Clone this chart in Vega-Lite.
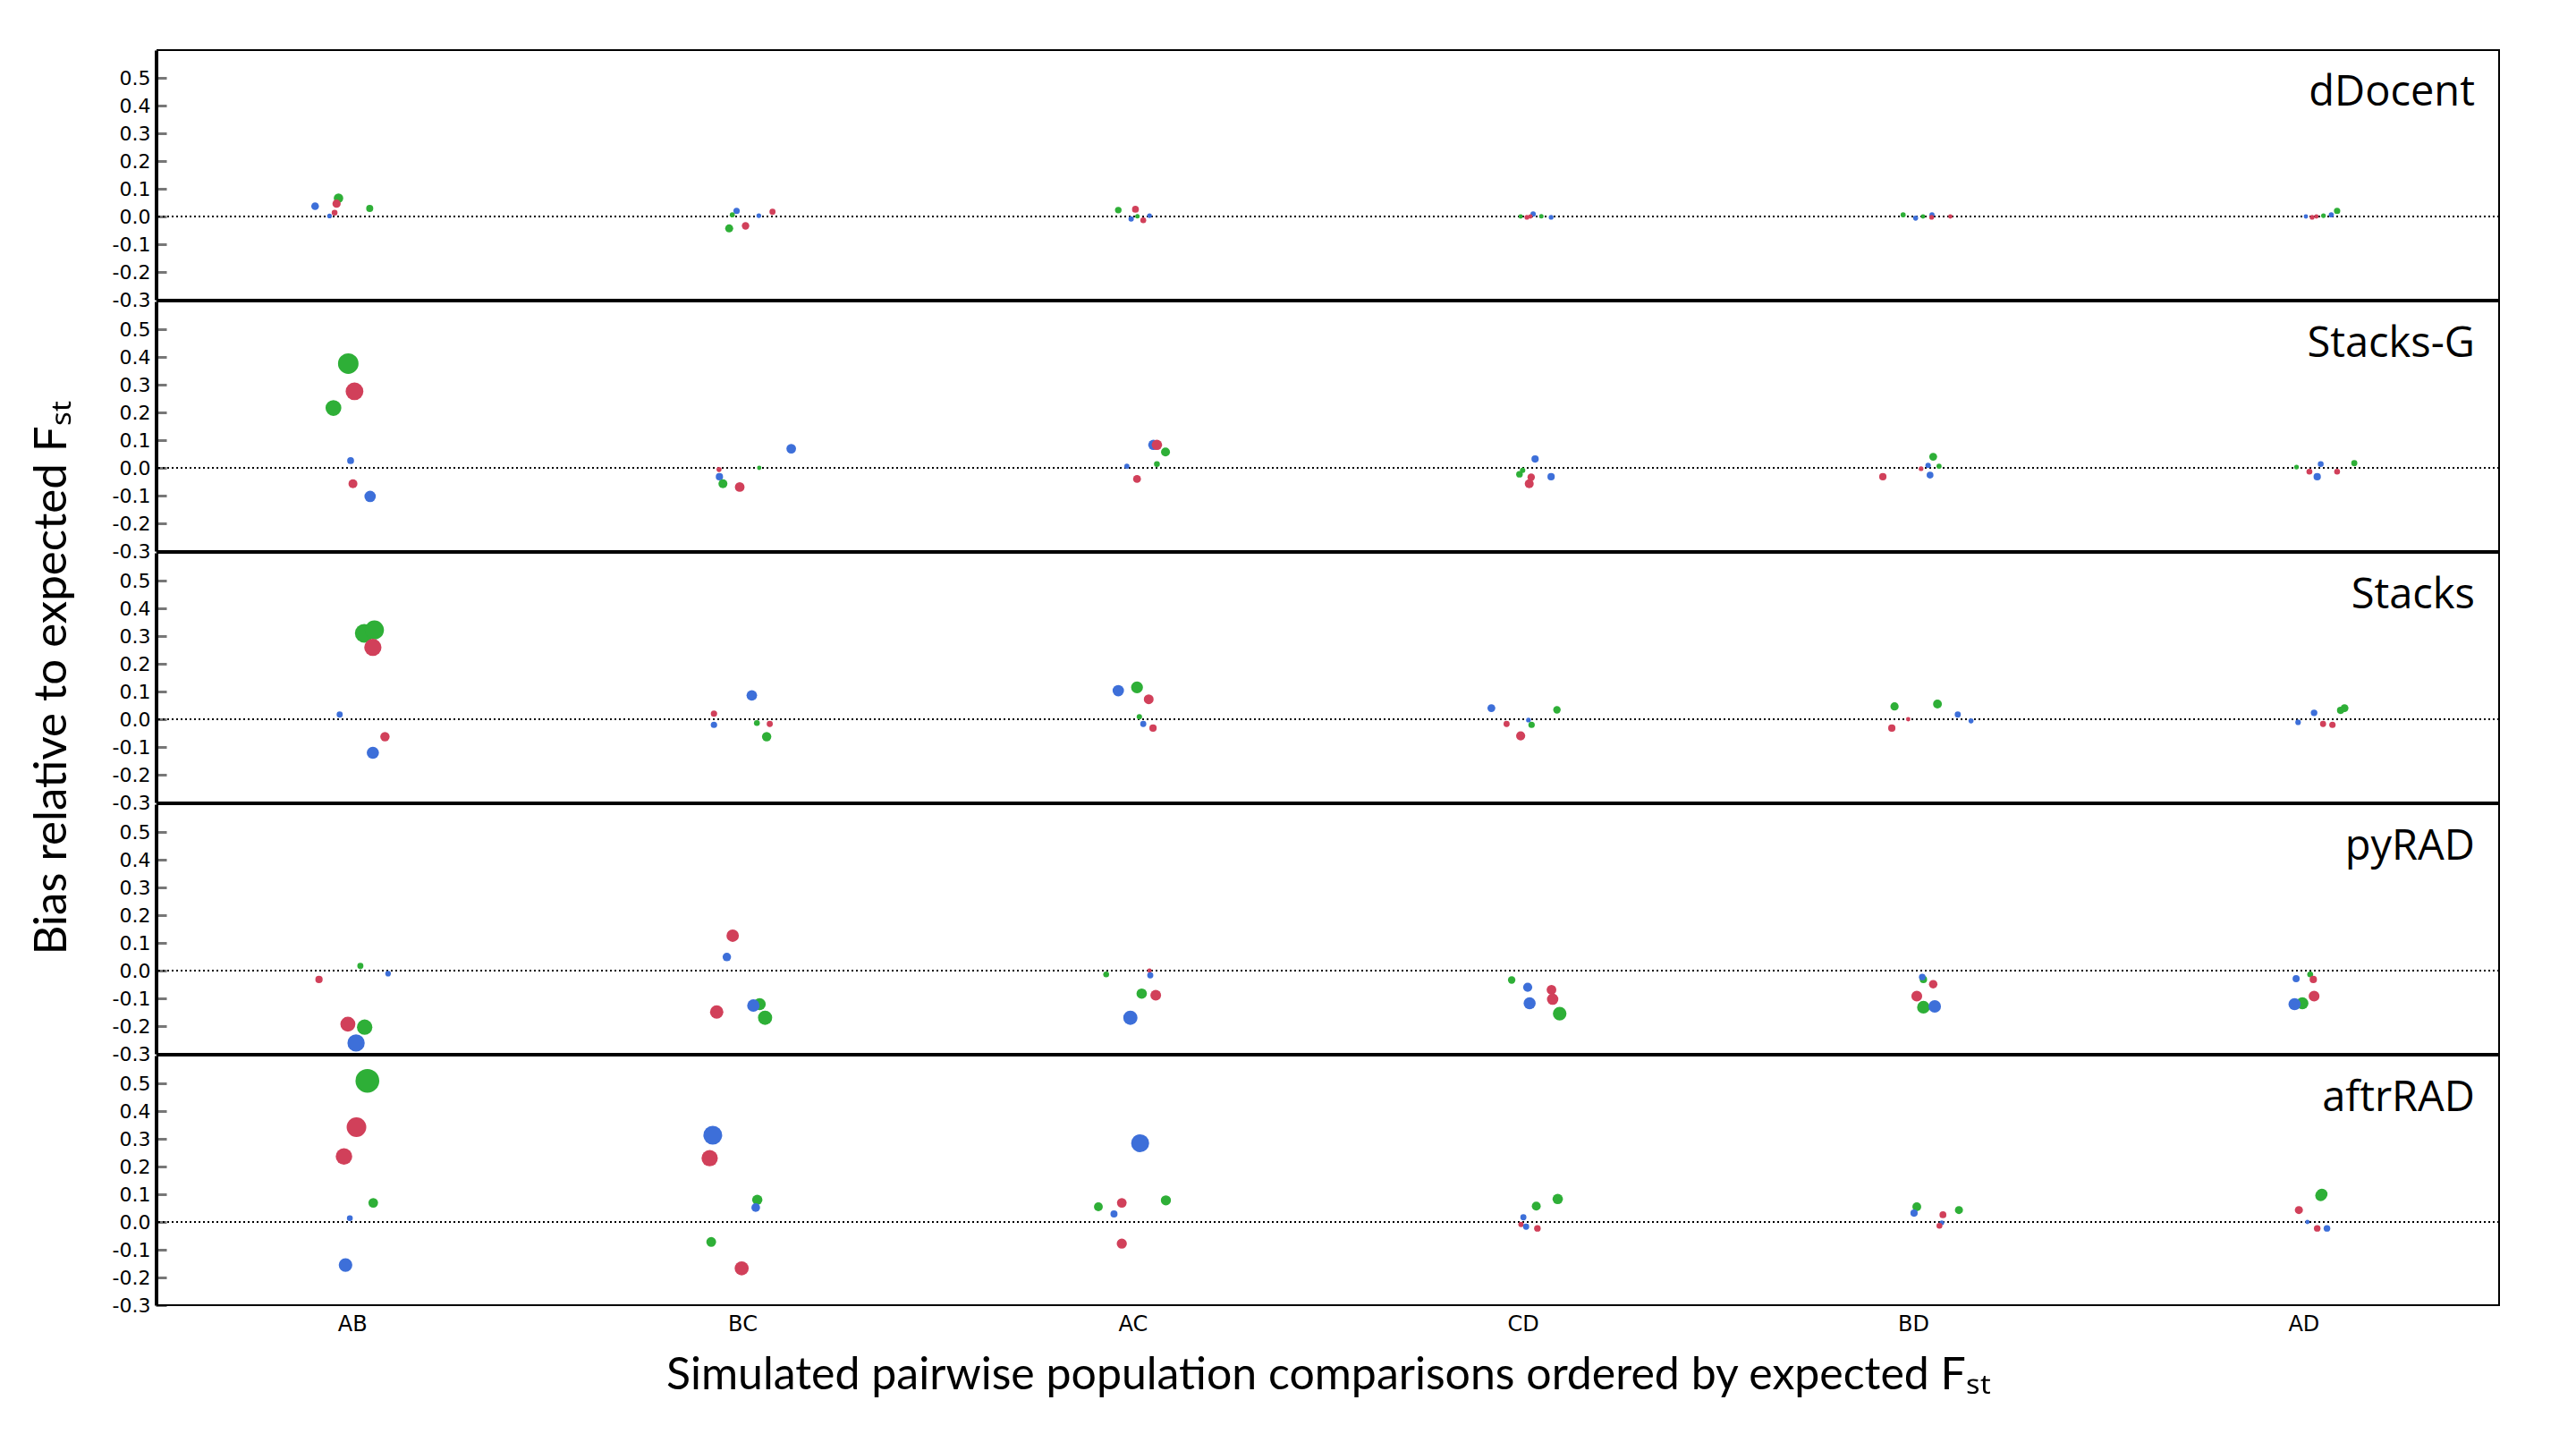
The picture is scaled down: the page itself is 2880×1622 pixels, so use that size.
{
  "$schema": "https://vega.github.io/schema/vega-lite/v6.json",
  "padding": {"left": 32, "top": 55, "right": 10, "bottom": 10},
  "background": "white",
  "data": {
    "values": [
      {"method": "dDocent", "pair": "AB", "set": "T1", "jitter": -0.096, "bias": 0.037},
      {"method": "dDocent", "pair": "AB", "set": "T3", "jitter": -0.036, "bias": 0.066},
      {"method": "dDocent", "pair": "AB", "set": "T2", "jitter": -0.041, "bias": 0.046},
      {"method": "dDocent", "pair": "AB", "set": "T2", "jitter": -0.046, "bias": 0.014},
      {"method": "dDocent", "pair": "AB", "set": "T1", "jitter": -0.059, "bias": 0.002},
      {"method": "dDocent", "pair": "AB", "set": "T3", "jitter": 0.044, "bias": 0.029},
      {"method": "Stacks-G", "pair": "AB", "set": "T3", "jitter": -0.011, "bias": 0.376},
      {"method": "Stacks-G", "pair": "AB", "set": "T2", "jitter": 0.005, "bias": 0.276},
      {"method": "Stacks-G", "pair": "AB", "set": "T3", "jitter": -0.049, "bias": 0.216},
      {"method": "Stacks-G", "pair": "AB", "set": "T1", "jitter": -0.005, "bias": 0.026},
      {"method": "Stacks-G", "pair": "AB", "set": "T2", "jitter": 0.001, "bias": -0.057},
      {"method": "Stacks-G", "pair": "AB", "set": "T1", "jitter": 0.045, "bias": -0.103},
      {"method": "Stacks", "pair": "AB", "set": "T3", "jitter": 0.030, "bias": 0.31},
      {"method": "Stacks", "pair": "AB", "set": "T3", "jitter": 0.056, "bias": 0.322},
      {"method": "Stacks", "pair": "AB", "set": "T2", "jitter": 0.052, "bias": 0.259},
      {"method": "Stacks", "pair": "AB", "set": "T1", "jitter": -0.033, "bias": 0.017},
      {"method": "Stacks", "pair": "AB", "set": "T2", "jitter": 0.083, "bias": -0.063},
      {"method": "Stacks", "pair": "AB", "set": "T1", "jitter": 0.052, "bias": -0.121},
      {"method": "pyRAD", "pair": "AB", "set": "T3", "jitter": 0.020, "bias": 0.017},
      {"method": "pyRAD", "pair": "AB", "set": "T2", "jitter": -0.086, "bias": -0.032},
      {"method": "pyRAD", "pair": "AB", "set": "T1", "jitter": 0.091, "bias": -0.011},
      {"method": "pyRAD", "pair": "AB", "set": "T2", "jitter": -0.012, "bias": -0.193},
      {"method": "pyRAD", "pair": "AB", "set": "T3", "jitter": 0.031, "bias": -0.204},
      {"method": "pyRAD", "pair": "AB", "set": "T1", "jitter": 0.009, "bias": -0.261},
      {"method": "aftrRAD", "pair": "AB", "set": "T3", "jitter": 0.038, "bias": 0.509},
      {"method": "aftrRAD", "pair": "AB", "set": "T2", "jitter": 0.010, "bias": 0.342},
      {"method": "aftrRAD", "pair": "AB", "set": "T2", "jitter": -0.022, "bias": 0.236},
      {"method": "aftrRAD", "pair": "AB", "set": "T3", "jitter": 0.053, "bias": 0.069},
      {"method": "aftrRAD", "pair": "AB", "set": "T1", "jitter": -0.007, "bias": 0.014},
      {"method": "aftrRAD", "pair": "AB", "set": "T1", "jitter": -0.018, "bias": -0.155},

      {"method": "dDocent", "pair": "BC", "set": "T1", "jitter": -0.016, "bias": 0.02},
      {"method": "dDocent", "pair": "BC", "set": "T3", "jitter": -0.027, "bias": 0.006},
      {"method": "dDocent", "pair": "BC", "set": "T3", "jitter": -0.035, "bias": -0.043},
      {"method": "dDocent", "pair": "BC", "set": "T2", "jitter": 0.007, "bias": -0.034},
      {"method": "dDocent", "pair": "BC", "set": "T1", "jitter": 0.041, "bias": 0.003},
      {"method": "dDocent", "pair": "BC", "set": "T2", "jitter": 0.076, "bias": 0.017},
      {"method": "Stacks-G", "pair": "BC", "set": "T2", "jitter": -0.061, "bias": -0.006},
      {"method": "Stacks-G", "pair": "BC", "set": "T1", "jitter": -0.060, "bias": -0.032},
      {"method": "Stacks-G", "pair": "BC", "set": "T3", "jitter": -0.051, "bias": -0.057},
      {"method": "Stacks-G", "pair": "BC", "set": "T2", "jitter": -0.008, "bias": -0.069},
      {"method": "Stacks-G", "pair": "BC", "set": "T3", "jitter": 0.042, "bias": 0.0},
      {"method": "Stacks-G", "pair": "BC", "set": "T1", "jitter": 0.124, "bias": 0.069},
      {"method": "Stacks", "pair": "BC", "set": "T2", "jitter": -0.074, "bias": 0.02},
      {"method": "Stacks", "pair": "BC", "set": "T1", "jitter": -0.074, "bias": -0.02},
      {"method": "Stacks", "pair": "BC", "set": "T1", "jitter": 0.023, "bias": 0.086},
      {"method": "Stacks", "pair": "BC", "set": "T3", "jitter": 0.036, "bias": -0.014},
      {"method": "Stacks", "pair": "BC", "set": "T2", "jitter": 0.069, "bias": -0.017},
      {"method": "Stacks", "pair": "BC", "set": "T3", "jitter": 0.061, "bias": -0.063},
      {"method": "pyRAD", "pair": "BC", "set": "T2", "jitter": -0.026, "bias": 0.126},
      {"method": "pyRAD", "pair": "BC", "set": "T1", "jitter": -0.041, "bias": 0.049},
      {"method": "pyRAD", "pair": "BC", "set": "T2", "jitter": -0.067, "bias": -0.149},
      {"method": "pyRAD", "pair": "BC", "set": "T3", "jitter": 0.043, "bias": -0.121},
      {"method": "pyRAD", "pair": "BC", "set": "T1", "jitter": 0.027, "bias": -0.126},
      {"method": "pyRAD", "pair": "BC", "set": "T3", "jitter": 0.057, "bias": -0.17},
      {"method": "aftrRAD", "pair": "BC", "set": "T1", "jitter": -0.077, "bias": 0.313},
      {"method": "aftrRAD", "pair": "BC", "set": "T2", "jitter": -0.085, "bias": 0.23},
      {"method": "aftrRAD", "pair": "BC", "set": "T3", "jitter": 0.037, "bias": 0.08},
      {"method": "aftrRAD", "pair": "BC", "set": "T1", "jitter": 0.033, "bias": 0.052},
      {"method": "aftrRAD", "pair": "BC", "set": "T3", "jitter": -0.081, "bias": -0.072},
      {"method": "aftrRAD", "pair": "BC", "set": "T2", "jitter": -0.003, "bias": -0.167},

      {"method": "dDocent", "pair": "AC", "set": "T3", "jitter": -0.038, "bias": 0.023},
      {"method": "dDocent", "pair": "AC", "set": "T2", "jitter": 0.006, "bias": 0.026},
      {"method": "dDocent", "pair": "AC", "set": "T1", "jitter": -0.005, "bias": -0.009},
      {"method": "dDocent", "pair": "AC", "set": "T2", "jitter": 0.026, "bias": -0.014},
      {"method": "dDocent", "pair": "AC", "set": "T1", "jitter": 0.042, "bias": 0.003},
      {"method": "dDocent", "pair": "AC", "set": "T3", "jitter": 0.011, "bias": 0.001},
      {"method": "Stacks-G", "pair": "AC", "set": "T1", "jitter": -0.016, "bias": 0.006},
      {"method": "Stacks-G", "pair": "AC", "set": "T2", "jitter": 0.010, "bias": -0.04},
      {"method": "Stacks-G", "pair": "AC", "set": "T1", "jitter": 0.052, "bias": 0.083},
      {"method": "Stacks-G", "pair": "AC", "set": "T2", "jitter": 0.061, "bias": 0.083},
      {"method": "Stacks-G", "pair": "AC", "set": "T3", "jitter": 0.083, "bias": 0.057},
      {"method": "Stacks-G", "pair": "AC", "set": "T3", "jitter": 0.061, "bias": 0.014},
      {"method": "Stacks", "pair": "AC", "set": "T1", "jitter": -0.038, "bias": 0.103},
      {"method": "Stacks", "pair": "AC", "set": "T3", "jitter": 0.010, "bias": 0.115},
      {"method": "Stacks", "pair": "AC", "set": "T2", "jitter": 0.040, "bias": 0.072},
      {"method": "Stacks", "pair": "AC", "set": "T3", "jitter": 0.016, "bias": 0.009},
      {"method": "Stacks", "pair": "AC", "set": "T1", "jitter": 0.026, "bias": -0.017},
      {"method": "Stacks", "pair": "AC", "set": "T2", "jitter": 0.051, "bias": -0.032},
      {"method": "pyRAD", "pair": "AC", "set": "T3", "jitter": -0.069, "bias": -0.014},
      {"method": "pyRAD", "pair": "AC", "set": "T2", "jitter": 0.042, "bias": 0.0},
      {"method": "pyRAD", "pair": "AC", "set": "T1", "jitter": 0.044, "bias": -0.017},
      {"method": "pyRAD", "pair": "AC", "set": "T3", "jitter": 0.022, "bias": -0.083},
      {"method": "pyRAD", "pair": "AC", "set": "T2", "jitter": 0.058, "bias": -0.089},
      {"method": "pyRAD", "pair": "AC", "set": "T1", "jitter": -0.007, "bias": -0.17},
      {"method": "aftrRAD", "pair": "AC", "set": "T1", "jitter": 0.018, "bias": 0.284},
      {"method": "aftrRAD", "pair": "AC", "set": "T3", "jitter": -0.089, "bias": 0.055},
      {"method": "aftrRAD", "pair": "AC", "set": "T2", "jitter": -0.029, "bias": 0.069},
      {"method": "aftrRAD", "pair": "AC", "set": "T1", "jitter": -0.049, "bias": 0.029},
      {"method": "aftrRAD", "pair": "AC", "set": "T3", "jitter": 0.084, "bias": 0.078},
      {"method": "aftrRAD", "pair": "AC", "set": "T2", "jitter": -0.029, "bias": -0.078},

      {"method": "dDocent", "pair": "CD", "set": "T3", "jitter": -0.007, "bias": 0.0},
      {"method": "dDocent", "pair": "CD", "set": "T2", "jitter": 0.009, "bias": -0.003},
      {"method": "dDocent", "pair": "CD", "set": "T1", "jitter": 0.025, "bias": 0.009},
      {"method": "dDocent", "pair": "CD", "set": "T1", "jitter": 0.071, "bias": -0.003},
      {"method": "dDocent", "pair": "CD", "set": "T2", "jitter": 0.018, "bias": 0.0},
      {"method": "dDocent", "pair": "CD", "set": "T3", "jitter": 0.046, "bias": 0.001},
      {"method": "Stacks-G", "pair": "CD", "set": "T1", "jitter": 0.030, "bias": 0.032},
      {"method": "Stacks-G", "pair": "CD", "set": "T3", "jitter": -0.002, "bias": -0.009},
      {"method": "Stacks-G", "pair": "CD", "set": "T3", "jitter": -0.010, "bias": -0.023},
      {"method": "Stacks-G", "pair": "CD", "set": "T2", "jitter": 0.020, "bias": -0.034},
      {"method": "Stacks-G", "pair": "CD", "set": "T2", "jitter": 0.015, "bias": -0.057},
      {"method": "Stacks-G", "pair": "CD", "set": "T1", "jitter": 0.071, "bias": -0.032},
      {"method": "Stacks", "pair": "CD", "set": "T1", "jitter": -0.082, "bias": 0.04},
      {"method": "Stacks", "pair": "CD", "set": "T2", "jitter": -0.043, "bias": -0.017},
      {"method": "Stacks", "pair": "CD", "set": "T2", "jitter": -0.007, "bias": -0.06},
      {"method": "Stacks", "pair": "CD", "set": "T1", "jitter": 0.013, "bias": -0.003},
      {"method": "Stacks", "pair": "CD", "set": "T3", "jitter": 0.021, "bias": -0.02},
      {"method": "Stacks", "pair": "CD", "set": "T3", "jitter": 0.086, "bias": 0.034},
      {"method": "pyRAD", "pair": "CD", "set": "T3", "jitter": -0.030, "bias": -0.034},
      {"method": "pyRAD", "pair": "CD", "set": "T1", "jitter": 0.011, "bias": -0.06},
      {"method": "pyRAD", "pair": "CD", "set": "T1", "jitter": 0.016, "bias": -0.118},
      {"method": "pyRAD", "pair": "CD", "set": "T2", "jitter": 0.072, "bias": -0.069},
      {"method": "pyRAD", "pair": "CD", "set": "T2", "jitter": 0.075, "bias": -0.103},
      {"method": "pyRAD", "pair": "CD", "set": "T3", "jitter": 0.093, "bias": -0.155},
      {"method": "aftrRAD", "pair": "CD", "set": "T3", "jitter": 0.088, "bias": 0.083},
      {"method": "aftrRAD", "pair": "CD", "set": "T3", "jitter": 0.033, "bias": 0.057},
      {"method": "aftrRAD", "pair": "CD", "set": "T1", "jitter": 0.0, "bias": 0.017},
      {"method": "aftrRAD", "pair": "CD", "set": "T2", "jitter": -0.006, "bias": -0.009},
      {"method": "aftrRAD", "pair": "CD", "set": "T1", "jitter": 0.007, "bias": -0.017},
      {"method": "aftrRAD", "pair": "CD", "set": "T2", "jitter": 0.036, "bias": -0.023},

      {"method": "dDocent", "pair": "BD", "set": "T3", "jitter": -0.027, "bias": 0.006},
      {"method": "dDocent", "pair": "BD", "set": "T1", "jitter": 0.005, "bias": -0.006},
      {"method": "dDocent", "pair": "BD", "set": "T3", "jitter": 0.024, "bias": 0.0},
      {"method": "dDocent", "pair": "BD", "set": "T1", "jitter": 0.047, "bias": 0.006},
      {"method": "dDocent", "pair": "BD", "set": "T2", "jitter": 0.046, "bias": -0.003},
      {"method": "dDocent", "pair": "BD", "set": "T2", "jitter": 0.094, "bias": 0.0},
      {"method": "Stacks-G", "pair": "BD", "set": "T2", "jitter": -0.079, "bias": -0.032},
      {"method": "Stacks-G", "pair": "BD", "set": "T2", "jitter": 0.019, "bias": -0.003},
      {"method": "Stacks-G", "pair": "BD", "set": "T1", "jitter": 0.037, "bias": 0.009},
      {"method": "Stacks-G", "pair": "BD", "set": "T1", "jitter": 0.042, "bias": -0.026},
      {"method": "Stacks-G", "pair": "BD", "set": "T3", "jitter": 0.050, "bias": 0.04},
      {"method": "Stacks-G", "pair": "BD", "set": "T3", "jitter": 0.065, "bias": 0.006},
      {"method": "Stacks", "pair": "BD", "set": "T3", "jitter": -0.049, "bias": 0.046},
      {"method": "Stacks", "pair": "BD", "set": "T2", "jitter": -0.056, "bias": -0.032},
      {"method": "Stacks", "pair": "BD", "set": "T2", "jitter": -0.014, "bias": 0.0},
      {"method": "Stacks", "pair": "BD", "set": "T3", "jitter": 0.061, "bias": 0.055},
      {"method": "Stacks", "pair": "BD", "set": "T1", "jitter": 0.113, "bias": 0.017},
      {"method": "Stacks", "pair": "BD", "set": "T1", "jitter": 0.147, "bias": -0.006},
      {"method": "pyRAD", "pair": "BD", "set": "T3", "jitter": 0.025, "bias": -0.032},
      {"method": "pyRAD", "pair": "BD", "set": "T1", "jitter": 0.022, "bias": -0.023},
      {"method": "pyRAD", "pair": "BD", "set": "T2", "jitter": 0.050, "bias": -0.049},
      {"method": "pyRAD", "pair": "BD", "set": "T2", "jitter": 0.008, "bias": -0.092},
      {"method": "pyRAD", "pair": "BD", "set": "T3", "jitter": 0.025, "bias": -0.132},
      {"method": "pyRAD", "pair": "BD", "set": "T1", "jitter": 0.054, "bias": -0.129},
      {"method": "aftrRAD", "pair": "BD", "set": "T3", "jitter": 0.008, "bias": 0.055},
      {"method": "aftrRAD", "pair": "BD", "set": "T1", "jitter": 0.001, "bias": 0.032},
      {"method": "aftrRAD", "pair": "BD", "set": "T2", "jitter": 0.075, "bias": 0.026},
      {"method": "aftrRAD", "pair": "BD", "set": "T1", "jitter": 0.072, "bias": -0.003},
      {"method": "aftrRAD", "pair": "BD", "set": "T2", "jitter": 0.066, "bias": -0.014},
      {"method": "aftrRAD", "pair": "BD", "set": "T3", "jitter": 0.116, "bias": 0.043},

      {"method": "dDocent", "pair": "AD", "set": "T2", "jitter": 0.021, "bias": -0.003},
      {"method": "dDocent", "pair": "AD", "set": "T3", "jitter": 0.050, "bias": 0.003},
      {"method": "dDocent", "pair": "AD", "set": "T1", "jitter": 0.070, "bias": 0.006},
      {"method": "dDocent", "pair": "AD", "set": "T3", "jitter": 0.085, "bias": 0.02},
      {"method": "dDocent", "pair": "AD", "set": "T2", "jitter": 0.032, "bias": 0.0},
      {"method": "dDocent", "pair": "AD", "set": "T1", "jitter": 0.005, "bias": 0.0},
      {"method": "Stacks-G", "pair": "AD", "set": "T3", "jitter": -0.019, "bias": 0.003},
      {"method": "Stacks-G", "pair": "AD", "set": "T2", "jitter": 0.014, "bias": -0.014},
      {"method": "Stacks-G", "pair": "AD", "set": "T1", "jitter": 0.043, "bias": 0.014},
      {"method": "Stacks-G", "pair": "AD", "set": "T1", "jitter": 0.034, "bias": -0.032},
      {"method": "Stacks-G", "pair": "AD", "set": "T2", "jitter": 0.085, "bias": -0.014},
      {"method": "Stacks-G", "pair": "AD", "set": "T3", "jitter": 0.129, "bias": 0.017},
      {"method": "Stacks", "pair": "AD", "set": "T1", "jitter": -0.015, "bias": -0.011},
      {"method": "Stacks", "pair": "AD", "set": "T1", "jitter": 0.026, "bias": 0.023},
      {"method": "Stacks", "pair": "AD", "set": "T2", "jitter": 0.049, "bias": -0.017},
      {"method": "Stacks", "pair": "AD", "set": "T2", "jitter": 0.073, "bias": -0.02},
      {"method": "Stacks", "pair": "AD", "set": "T3", "jitter": 0.094, "bias": 0.032},
      {"method": "Stacks", "pair": "AD", "set": "T3", "jitter": 0.104, "bias": 0.04},
      {"method": "pyRAD", "pair": "AD", "set": "T1", "jitter": -0.020, "bias": -0.029},
      {"method": "pyRAD", "pair": "AD", "set": "T3", "jitter": 0.016, "bias": -0.014},
      {"method": "pyRAD", "pair": "AD", "set": "T2", "jitter": 0.024, "bias": -0.032},
      {"method": "pyRAD", "pair": "AD", "set": "T2", "jitter": 0.026, "bias": -0.092},
      {"method": "pyRAD", "pair": "AD", "set": "T3", "jitter": -0.004, "bias": -0.118},
      {"method": "pyRAD", "pair": "AD", "set": "T1", "jitter": -0.024, "bias": -0.121},
      {"method": "aftrRAD", "pair": "AD", "set": "T3", "jitter": 0.043, "bias": 0.095},
      {"method": "aftrRAD", "pair": "AD", "set": "T2", "jitter": -0.013, "bias": 0.043},
      {"method": "aftrRAD", "pair": "AD", "set": "T1", "jitter": 0.009, "bias": 0.0},
      {"method": "aftrRAD", "pair": "AD", "set": "T2", "jitter": 0.034, "bias": -0.023},
      {"method": "aftrRAD", "pair": "AD", "set": "T1", "jitter": 0.059, "bias": -0.023},
      {"method": "aftrRAD", "pair": "AD", "set": "T3", "jitter": 0.046, "bias": 0.1}
    ]
  },
  "facet": {
    "row": {
      "field": "method",
      "type": "nominal",
      "sort": ["dDocent", "Stacks-G", "Stacks", "pyRAD", "aftrRAD"],
      "header": {
        "title": "Bias relative to expected Fₛₜ",
        "titleFont": "Lato",
        "titleFontSize": 51,
        "titleFontWeight": "normal",
        "titleColor": "black",
        "titlePadding": 30,
        "labels": false
      }
    }
  },
  "spacing": {"row": 0},
  "spec": {
    "width": 2618,
    "height": 279,
    "layer": [
      {
        "mark": {"type": "rule", "color": "black", "strokeWidth": 1.5, "strokeDash": [2, 3]},
        "encoding": {
          "y": {
            "datum": 0,
            "type": "quantitative",
            "scale": {"domain": [-0.3, 0.6], "nice": false, "zero": false},
            "axis": {
              "title": null,
              "values": [-0.3, -0.2, -0.1, 0, 0.1, 0.2, 0.3, 0.4, 0.5],
              "labelExpr": "replace(format(datum.value, '.1f'), '\u2212', '-')"
            }
          }
        }
      },
      {
        "transform": [{"calculate": "abs(datum.bias)", "as": "magnitude"}],
        "mark": {"type": "circle", "opacity": 1},
        "encoding": {
          "x": {
            "field": "pair",
            "type": "nominal",
            "sort": ["AB", "BC", "AC", "CD", "BD", "AD"],
            "scale": {"paddingInner": 0, "paddingOuter": 0},
            "axis": {
              "title": "Simulated pairwise population comparisons ordered by expected Fₛₜ"
            }
          },
          "xOffset": {
            "field": "jitter",
            "type": "quantitative",
            "scale": {"domain": [-0.5, 0.5]}
          },
          "y": {
            "field": "bias",
            "type": "quantitative",
            "scale": {"domain": [-0.3, 0.6], "nice": false, "zero": false},
            "axis": {
              "title": null,
              "values": [-0.3, -0.2, -0.1, 0, 0.1, 0.2, 0.3, 0.4, 0.5],
              "labelExpr": "replace(format(datum.value, '.1f'), '\u2212', '-')"
            }
          },
          "color": {
            "field": "set",
            "type": "nominal",
            "scale": {"domain": ["T1", "T2", "T3"], "range": ["#3d6fd9", "#d1405a", "#2eaf37"]},
            "legend": null
          },
          "size": {
            "field": "magnitude",
            "type": "quantitative",
            "scale": {"domain": [0, 0.52], "range": [24, 720]},
            "legend": null
          }
        }
      },
      {
        "transform": [{"aggregate": [{"op": "count", "as": "n"}], "groupby": ["method"]}],
        "mark": {"type": "text", "align": "right", "baseline": "alphabetic", "font": "Open Sans", "fontSize": 47, "color": "black"},
        "encoding": {
          "x": {
            "datum": "AD",
            "type": "nominal",
            "axis": {
              "title": "Simulated pairwise population comparisons ordered by expected Fₛₜ"
            }
          },
          "xOffset": {"datum": 0.438, "type": "quantitative"},
          "y": {
            "datum": 0.4,
            "type": "quantitative",
            "axis": {
              "title": null,
              "values": [-0.3, -0.2, -0.1, 0, 0.1, 0.2, 0.3, 0.4, 0.5],
              "labelExpr": "replace(format(datum.value, '.1f'), '\u2212', '-')"
            }
          },
          "text": {"field": "method", "type": "nominal"}
        }
      }
    ]
  },
  "config": {
    "view": {"stroke": "black", "strokeWidth": 2},
    "axisX": {
      "titleFont": "Lato",
      "titleFontSize": 50,
      "titleFontWeight": "normal",
      "titleColor": "black",
      "titlePadding": 20,
      "labelAngle": 0,
      "labelFont": "DejaVu Sans",
      "labelFontSize": 24,
      "labelColor": "black",
      "labelPadding": 8,
      "ticks": false,
      "domain": false,
      "grid": false
    },
    "axisY": {
      "labelFont": "DejaVu Sans",
      "labelFontSize": 22,
      "labelColor": "black",
      "labelPadding": 18,
      "labelFlush": false,
      "labelOverlap": false,
      "labelBound": false,
      "labelSeparation": 0,
      "tickColor": "#777777",
      "tickSize": -12,
      "tickWidth": 3,
      "domainColor": "black",
      "domainWidth": 3,
      "grid": false
    }
  }
}
